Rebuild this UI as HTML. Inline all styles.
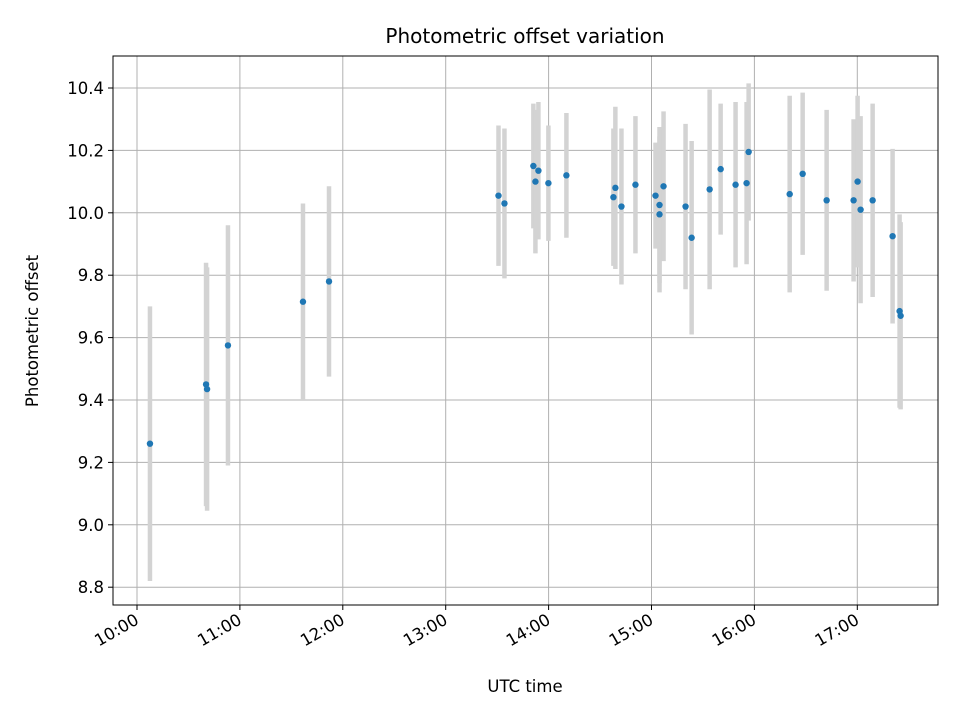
<!DOCTYPE html>
<html><head><meta charset="utf-8"><style>
body{margin:0;background:#fff;font-family:"Liberation Sans","DejaVu Sans",sans-serif}
svg text{font-family:"DejaVu Sans","Liberation Sans",sans-serif}
</style></head><body>
<svg id="chart" width="960" height="720" xmlns="http://www.w3.org/2000/svg">
<rect width="960" height="720" fill="#fff"/>
<g id="grid"></g><g id="bars"></g><g id="pts"></g><g id="axes"></g>
<text x="525" y="43" font-size="20" text-anchor="middle">Photometric offset variation</text>
<text x="525" y="692" font-size="16.5" text-anchor="middle">UTC time</text>
<text x="38" y="331" font-size="16.5" text-anchor="middle" transform="rotate(-90 38 331)">Photometric offset</text>
</svg>
<script>
const times=[10.126,10.671,10.681,10.884,11.613,11.866,13.513,13.571,13.852,13.872,13.901,13.998,14.173,14.630,14.649,14.708,14.844,15.039,15.078,15.078,15.117,15.331,15.390,15.565,15.672,15.817,15.924,15.944,16.343,16.469,16.702,16.964,17.003,17.032,17.149,17.343,17.411,17.421];
const values=[9.26,9.45,9.435,9.575,9.715,9.78,10.055,10.03,10.15,10.10,10.135,10.095,10.12,10.05,10.08,10.02,10.09,10.055,10.025,9.995,10.085,10.02,9.92,10.075,10.14,10.09,10.095,10.195,10.06,10.125,10.04,10.04,10.10,10.01,10.04,9.925,9.685,9.67];
const errors=[0.44,0.39,0.39,0.385,0.315,0.305,0.225,0.24,0.20,0.23,0.22,0.185,0.2,0.22,0.26,0.25,0.22,0.17,0.25,0.25,0.24,0.265,0.31,0.32,0.21,0.265,0.26,0.22,0.315,0.26,0.29,0.26,0.275,0.30,0.31,0.28,0.31,0.30];
const xTicks=[10,11,12,13,14,15,16,17];
const yTicks=[8.8,9.0,9.2,9.4,9.6,9.8,10.0,10.2,10.4];
const L=113,R=938,T=56,B=605;
const X=t=>137+(t-10)*102.9;
const Y=v=>88+(10.4-v)*312;
const NS='http://www.w3.org/2000/svg';
function mk(tag,attrs,parent){const e=document.createElementNS(NS,tag);for(const k in attrs)e.setAttribute(k,attrs[k]);document.getElementById(parent).appendChild(e);return e;}
xTicks.forEach(t=>{
 const x=X(t);
 const g=mk('line',{x1:x,x2:x,y1:T,y2:B,stroke:'#b0b0b0','stroke-width':1},'grid');
 
 
 mk('line',{x1:x,x2:x,y1:B,y2:B+5,stroke:'#000'},'axes');
 const lb=mk('text',{x:x+3,y:B+18,'font-size':16.5,'text-anchor':'end',transform:`rotate(-30 ${x+3} ${B+18})`},'axes');
 lb.textContent=String(t)+':00';
 
 
});
yTicks.forEach(v=>{
 const y=Y(v);
 const g=mk('line',{x1:L,x2:R,y1:y,y2:y,stroke:'#b0b0b0','stroke-width':1},'grid');
 
 
 mk('line',{x1:L-5,x2:L,y1:y,y2:y,stroke:'#000'},'axes');
 const lb=mk('text',{x:L-9,y:y+6,'font-size':16.5,'text-anchor':'end'},'axes');
 lb.textContent=v.toFixed(1);
 
 
});
const fr=mk('rect',{x:L,y:T,width:R-L,height:B-T,fill:'none',stroke:'#000','stroke-width':1},'axes');


times.forEach((t,i)=>{
 const x=X(t);
 const b=mk('line',{x1:x,x2:x,y1:Y(values[i]+errors[i]),y2:Y(values[i]-errors[i]),stroke:'#d3d3d3','stroke-width':4.5},'bars');
 
 
 const p=mk('circle',{cx:x,cy:Y(values[i]),r:3.2,fill:'#1f77b4'},'pts');
 
 
});
</script>
</body></html>
